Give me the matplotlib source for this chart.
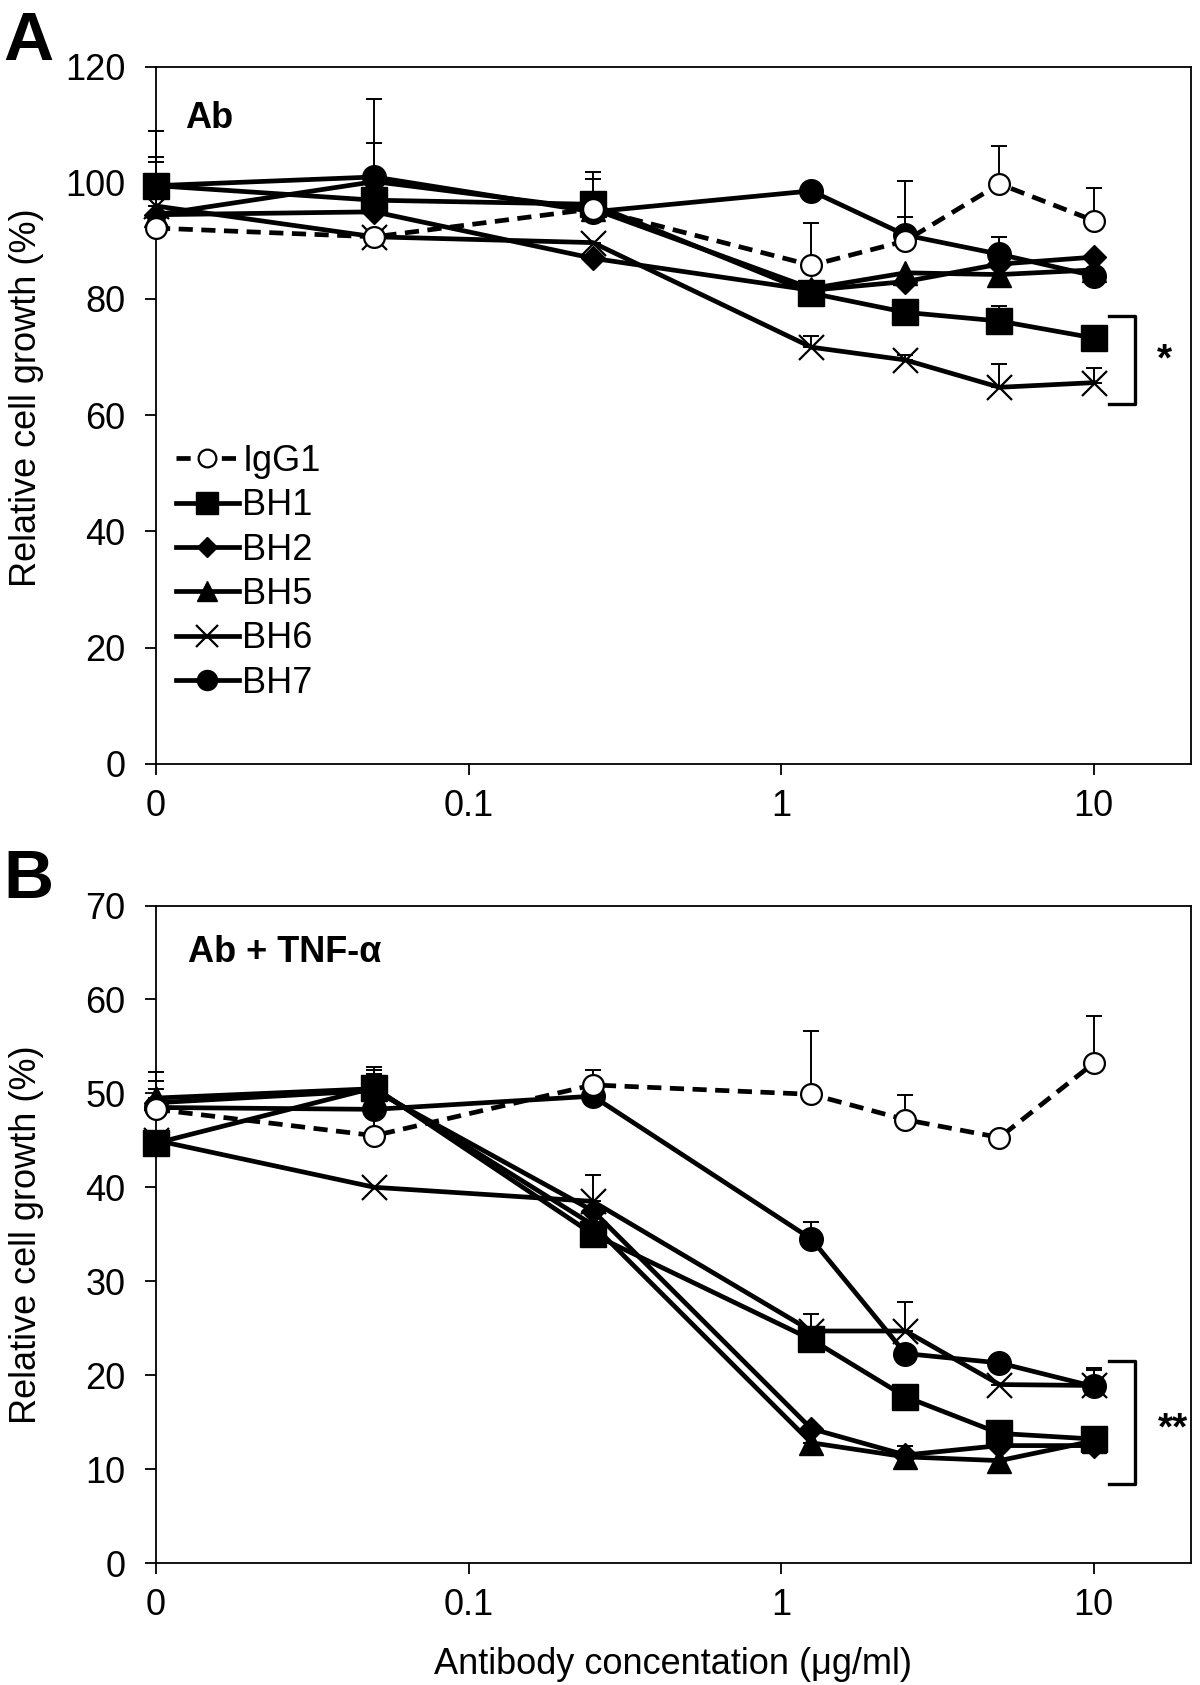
import numpy as np
import matplotlib
matplotlib.use("Agg")
import matplotlib.pyplot as plt

plt.rcParams['font.family'] = ['Liberation Sans', 'DejaVu Sans']

# antibody concentration (ug/ml); the "0" dose is drawn at 0.01 on the log axis
conc = [0.01, 0.05, 0.25, 1.25, 2.5, 5, 10]
tick_pos = [0.01, 0.1, 1, 10]
tick_lab = ['0', '0.1', '1', '10']
names = ['IgG1', 'BH1', 'BH2', 'BH5', 'BH6', 'BH7']

# panel A: Ab alone
a_igg1 = [92.2, 90.7, 95.5, 85.8, 90.0, 99.8, 93.5]
a_bh1 = [99.5, 97.0, 96.3, 81.0, 77.7, 76.2, 73.3]
a_bh2 = [94.5, 95.0, 87.0, 81.5, 83.0, 86.0, 87.2]
a_bh5 = [94.5, 100.2, 95.5, 81.8, 84.5, 84.2, 85.0]
a_bh6 = [96.0, 90.7, 89.7, 71.7, 69.5, 64.8, 65.6]
a_bh7 = [99.5, 101.0, 95.0, 98.6, 91.0, 87.7, 84.0]
a_err = {
    'IgG1': [11.4, 0, 6.4, 7.3, 10.3, 6.5, 5.6],
    'BH1': [9.4, 0, 4.3, 0, 0, 2.6, 0],
    'BH2': [0, 0, 0, 0, 0, 0, 0],
    'BH5': [0, 6.7, 0, 0, 0, 6.5, 0],
    'BH6': [0, 0, 0, 1.9, 0.8, 4.0, 2.5],
    'BH7': [5.0, 13.5, 0, 0, 3.1, 3.0, 0],
}

# panel B: Ab + TNF-alpha
b_igg1 = [48.3, 45.5, 50.9, 49.9, 47.2, 45.3, 53.2]
b_bh1 = [44.7, 50.6, 35.0, 23.8, 17.7, 13.8, 13.2]
b_bh2 = [49.0, 50.3, 37.5, 14.3, 11.5, 12.5, 12.5]
b_bh5 = [49.5, 50.5, 36.0, 12.8, 11.3, 10.9, 13.0]
b_bh6 = [45.0, 40.0, 38.5, 24.7, 24.7, 19.0, 18.9]
b_bh7 = [48.5, 48.3, 49.7, 34.5, 22.3, 21.3, 18.8]
b_err = {
    'IgG1': [3.0, 7.3, 1.6, 6.7, 2.6, 0, 5.0],
    'BH1': [0, 1.9, 0, 2.7, 0.8, 0, 0],
    'BH2': [0, 0, 0, 0, 0, 0, 0],
    'BH5': [2.8, 1.5, 0, 0, 1.2, 0, 0],
    'BH6': [0, 0, 2.8, 0, 3.1, 0, 1.6],
    'BH7': [2.0, 3.8, 0, 1.8, 0, 0, 2.0],
}

styles = {
    'IgG1': dict(marker='o', ms=15, mfc='white', mec='black', mew=1.6, ls=(0, (3, 1.8))),
    'BH1': dict(marker='s', ms=19, mfc='black', mec='black', ls='-'),
    'BH2': dict(marker='D', ms=12, mfc='black', mec='black', ls='-'),
    'BH5': dict(marker='^', ms=17, mfc='black', mec='black', ls='-'),
    'BH6': dict(marker='x', ms=18, mfc='black', mec='black', mew=1.6, ls='-'),
    'BH7': dict(marker='o', ms=17, mfc='black', mec='black', ls='-'),
}

FS = 26

fig = plt.figure(figsize=(12, 16.85), dpi=100)
axA = fig.add_axes([0.13, 0.5467, 0.8625, 0.4138])
axB = fig.add_axes([0.13, 0.0724, 0.8625, 0.3902])


def draw(ax, series, errs, ymax, ystep, ylab_y):
    order = ['IgG1', 'BH6', 'BH2', 'BH5', 'BH1', 'BH7']
    for nm in order:
        e = errs[nm]
        eb = ax.errorbar(conc, series[nm], yerr=[np.zeros(len(e)), e], fmt='none',
                         ecolor='black', elinewidth=1.4, capsize=6, capthick=1.4, zorder=2)
        for art in eb.lines[1] + eb.lines[2]:
            art.set_clip_on(False)
    for nm in order:
        st = styles[nm]
        z = 4 if nm == 'IgG1' else 3
        ax.plot(conc, series[nm], color='black', lw=3.4, label=nm, zorder=z,
                clip_on=False, **st)
    ax.set_xscale('log')
    ax.set_xlim(0.01, 20.5)
    ax.set_ylim(0, ymax)
    ax.set_xticks(tick_pos)
    ax.set_xticklabels(tick_lab)
    ax.minorticks_off()
    ax.set_yticks(np.arange(0, ymax + 1, ystep))
    ax.tick_params(axis='both', direction='out', length=8, width=1.3,
                   labelsize=FS)
    ax.tick_params(axis='y', pad=14)
    ax.tick_params(axis='x', pad=10)
    for s in ax.spines.values():
        s.set_linewidth(1.3)
    ax.set_ylabel('Relative cell growth (%)', fontsize=FS)
    ax.yaxis.set_label_coords(-0.108, ylab_y)


sA = dict(zip(names, [a_igg1, a_bh1, a_bh2, a_bh5, a_bh6, a_bh7]))
sB = dict(zip(names, [b_igg1, b_bh1, b_bh2, b_bh5, b_bh6, b_bh7]))
draw(axA, sA, a_err, 120, 20, 0.525)
draw(axB, sB, b_err, 70, 10, 0.5)

# legend in panel A, in the original order
h, l = axA.get_legend_handles_labels()
hmap = dict(zip(l, h))
axA.legend([hmap[n] for n in names], names, loc='upper left',
           bbox_to_anchor=(-0.002, 0.49), frameon=False, fontsize=FS,
           handlelength=1.75, handletextpad=0.1, labelspacing=0.26,
           borderaxespad=0.2, markerscale=0.85)

axA.text(0.028, 0.926, 'Ab', transform=axA.transAxes, fontsize=26,
         fontweight='bold', va='center', ha='left')
axB.text(0.031, 0.928, 'Ab + TNF-\u03b1', transform=axB.transAxes, fontsize=26,
         fontweight='bold', va='center', ha='left')

axB.set_xlabel('Antibody concentation (\u03bcg/ml)', fontsize=FS, labelpad=17)

# significance brackets
def bracket(ax, x0, x1, ylo, yhi, txt, xt, yt):
    ax.plot([x0, x1, x1, x0], [yhi, yhi, ylo, ylo], color='black', lw=2.4,
            clip_on=False, solid_joinstyle='round')
    ax.text(xt, yt, txt, fontsize=28, fontweight='bold', ha='center', va='center')

bracket(axA, 11.2, 13.6, 61.9, 77.1, '*', 16.8, 69.5)
bracket(axB, 11.2, 13.6, 8.4, 21.5, '**', 18.0, 14.2)

fig.text(0.024, 0.975, 'A', fontsize=50, fontweight='bold', va='center', ha='center')
fig.text(0.024, 0.478, 'B', fontsize=50, fontweight='bold', va='center', ha='center')

fig.savefig('out.png', dpi=100)
